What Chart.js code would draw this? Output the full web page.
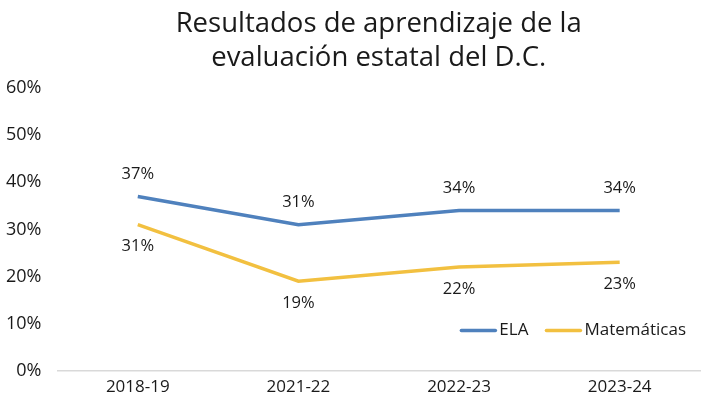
<!DOCTYPE html>
<html>
<head>
<meta charset="utf-8">
<script src="https://cdn.jsdelivr.net/npm/chart.js@4/dist/chart.umd.min.js"></script>
<style>
  html, body { margin: 0; padding: 0; background: #fff; }
  #wrap { width: 701px; height: 401px; }
</style>
</head>
<body>
<div id="wrap"><canvas id="chart"></canvas></div>
<script>
// data
const years = ['2018-19', '2021-22', '2022-23', '2023-24'];
const ela = [37, 31, 34, 34];
const mate = [31, 19, 22, 23];
const yTicks = [0, 10, 20, 30, 40, 50, 60];

const fontFam = '"Open Sans", Lato, sans-serif';
const textColor = '#1a1a1a';

// value labels, ELA above the line and math below it
const pointLabels = {
  id: 'pointLabels',
  afterDatasetsDraw(chart) {
    const ctx = chart.ctx;
    ctx.save();
    ctx.font = '16.5px ' + fontFam;
    ctx.fillStyle = textColor;
    ctx.textAlign = 'center';
    ctx.textBaseline = 'middle';
    chart.data.datasets.forEach((ds, i) => {
      const meta = chart.getDatasetMeta(i);
      const dy = ds.labelPos === 'above' ? -22 : 22;
      meta.data.forEach((pt, j) => {
        ctx.fillText(ds.data[j] + '%', pt.x, pt.y + dy);
      });
    });
    ctx.restore();
  }
};

// legend sits inside the plot, bottom right
const innerLegend = {
  id: 'innerLegend',
  afterDraw(chart) {
    const ctx = chart.ctx;
    const area = chart.chartArea;
    ctx.save();
    ctx.font = '17px ' + fontFam;
    ctx.textBaseline = 'middle';
    const y = area.bottom - 40;
    const lineLen = 36, gap = 3, between = 17;
    const items = chart.data.datasets.map(ds => ({
      label: ds.label, color: ds.borderColor,
      w: lineLen + gap + ctx.measureText(ds.label).width
    }));
    let total = items.reduce((s, it) => s + it.w, 0) + between * (items.length - 1);
    let x = area.right - 14 - total;
    items.forEach(it => {
      ctx.strokeStyle = it.color;
      ctx.lineWidth = 3.5;
      ctx.lineCap = 'round';
      ctx.beginPath();
      ctx.moveTo(x + 1, y);
      ctx.lineTo(x + lineLen - 1, y);
      ctx.stroke();
      ctx.fillStyle = textColor;
      ctx.fillText(it.label, x + lineLen + gap, y);
      x += it.w + between;
    });
    ctx.restore();
  }
};

new Chart(document.getElementById('chart'), {
  type: 'line',
  data: {
    labels: years,
    datasets: [
      {
        label: 'ELA',
        data: ela,
        borderColor: '#4f81bd',
        backgroundColor: '#4f81bd',
        borderWidth: 3.5,
        pointRadius: 0,
        tension: 0,
        labelPos: 'above'
      },
      {
        label: 'Matemáticas',
        data: mate,
        borderColor: '#f2c040',
        backgroundColor: '#f2c040',
        borderWidth: 3.5,
        pointRadius: 0,
        tension: 0,
        labelPos: 'below'
      }
    ]
  },
  options: {
    responsive: true,
    maintainAspectRatio: false,
    animation: false,
    layout: { padding: { left: -10, right: 1, top: 0, bottom: -2 } },
    plugins: {
      legend: { display: false },
      tooltip: { enabled: false },
      title: {
        display: true,
        fullSize: false,
        text: ['Resultados de aprendizaje de la', 'evaluación estatal del D.C.'],
        color: textColor,
        font: { family: fontFam, size: 27.5, weight: 'normal', lineHeight: 1.24 },
        padding: { top: 7, bottom: 13 }
      }
    },
    scales: {
      x: {
        offset: true,
        grid: { display: false, drawTicks: false },
        border: { display: true, color: '#d9d9d9', width: 1.5 },
        ticks: { color: textColor, font: { family: fontFam, size: 17 }, padding: 6 }
      },
      y: {
        min: 0,
        max: 60,
        grid: { display: false, drawTicks: false },
        border: { display: false },
        afterBuildTicks(scale) {
          scale.ticks = yTicks.map(v => ({ value: v }));
        },
        ticks: {
          color: textColor,
          font: { family: fontFam, size: 18 },
          padding: 16,
          callback: v => v + '%'
        }
      }
    }
  },
  plugins: [pointLabels, innerLegend]
});
</script>
</body>
</html>
